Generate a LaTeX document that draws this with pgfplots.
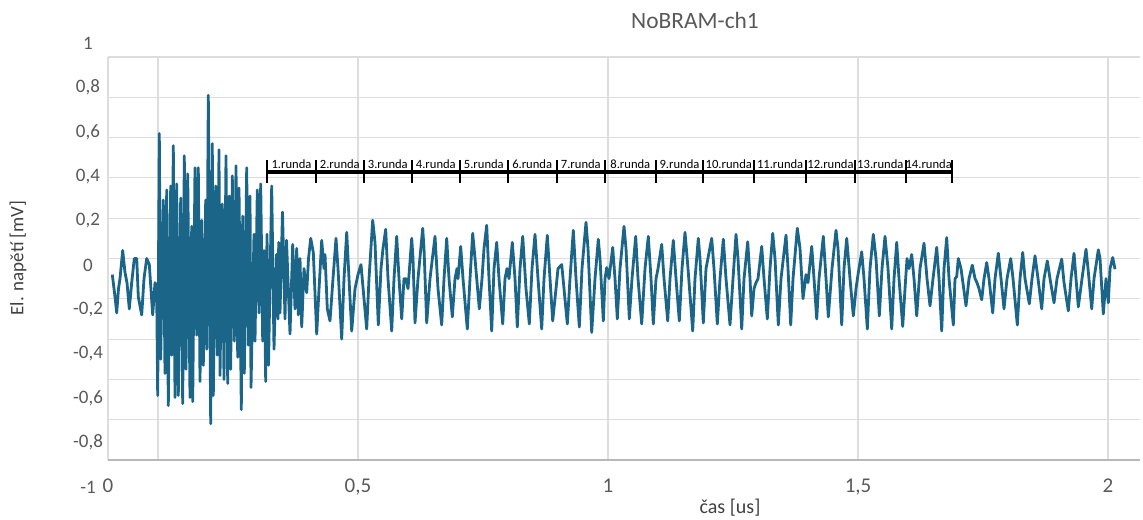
\documentclass[border=0pt]{standalone}
\usepackage{pgfplots}
\pgfplotsset{compat=1.18}
\usepackage{pgfplotstable}
\usepackage{fontspec}
\setmainfont{Carlito}
\definecolor{sig}{HTML}{1B6589}
\definecolor{gridc}{HTML}{DDDDDD}
\definecolor{tickc}{HTML}{595959}
\definecolor{labc}{HTML}{404040}
\tikzset{rl/.style={font=\fontsize{6.3}{7}\selectfont, inner sep=0pt}}
\pgfplotstableread{
x y
0.0086 -0.08
0.0140 -0.19
0.0174 -0.27
0.0210 -0.15
0.0240 -0.10
0.0294 0.04
0.0340 -0.07
0.0380 -0.12
0.0426 -0.25
0.0474 -0.12
0.0526 0.00
0.0574 0.00
0.0606 -0.19
0.0674 -0.28
0.0720 -0.10
0.0774 0.00
0.0826 -0.03
0.0894 -0.28
0.0940 -0.12
0.0974 -0.17
0.0994 -0.68
0.1026 0.62
0.1054 -0.50
0.1106 0.29
0.1140 -0.57
0.1174 0.34
0.1206 -0.73
0.1254 0.36
0.1274 -0.48
0.1306 0.56
0.1340 -0.69
0.1374 0.37
0.1406 -0.68
0.1454 0.30
0.1494 -0.72
0.1526 0.51
0.1560 -0.55
0.1594 0.42
0.1640 -0.69
0.1674 0.16
0.1694 -0.71
0.1740 0.45
0.1774 -0.38
0.1806 0.45
0.1840 -0.61
0.1874 0.19
0.1906 -0.53
0.1954 0.29
0.1974 -0.45
0.2006 0.81
0.2054 -0.82
0.2086 0.57
0.2106 -0.68
0.2154 0.36
0.2186 -0.48
0.2220 0.54
0.2240 -0.58
0.2286 0.27
0.2320 -0.60
0.2360 0.51
0.2394 -0.62
0.2426 0.31
0.2454 -0.55
0.2486 0.41
0.2526 -0.41
0.2560 0.46
0.2594 -0.49
0.2620 0.35
0.2666 -0.75
0.2694 0.21
0.2726 -0.57
0.2774 0.45
0.2806 -0.43
0.2840 0.31
0.2860 -0.64
0.2920 0.12
0.2940 -0.41
0.2986 0.34
0.3020 -0.27
0.3054 0.37
0.3094 -0.41
0.3120 0.04
0.3154 -0.61
0.3180 0.12
0.3210 -0.53
0.3274 0.36
0.3320 -0.45
0.3370 0.02
0.3400 -0.30
0.3414 0.08
0.3440 -0.27
0.3490 0.23
0.3540 -0.30
0.3570 0.09
0.3640 -0.375
0.3694 0.07
0.3740 -0.25
0.3774 0.05
0.3806 -0.28
0.3840 0.00
0.3874 -0.34
0.3920 -0.05
0.3974 -0.17
0.4010 0.00
0.4054 0.10
0.4106 0.03
0.4174 -0.375
0.4210 -0.20
0.4274 0.09
0.4320 -0.05
0.4340 0.02
0.4386 -0.25
0.4440 -0.31
0.4500 -0.10
0.4560 0.10
0.4600 -0.05
0.4674 -0.40
0.4720 -0.10
0.4774 0.13
0.4820 -0.10
0.4874 -0.36
0.4940 -0.15
0.5000 -0.08
0.5060 -0.03
0.5120 -0.20
0.5174 -0.35
0.5220 -0.10
0.5294 0.19
0.5340 0.08
0.5406 -0.33
0.5460 -0.05
0.5500 0.05
0.5554 0.145
0.5600 -0.10
0.5674 -0.36
0.5720 -0.10
0.5774 0.11
0.5820 -0.10
0.5874 -0.30
0.5920 -0.10
0.5960 -0.10
0.6000 -0.15
0.6074 0.10
0.6100 0.00
0.6140 -0.32
0.6200 -0.10
0.6294 0.15
0.6320 0.05
0.6374 -0.32
0.6440 -0.10
0.6540 0.11
0.6600 -0.15
0.6674 -0.33
0.6720 -0.10
0.6774 0.10
0.6820 -0.10
0.6886 -0.29
0.6940 -0.10
0.6980 -0.05
0.7000 -0.10
0.7054 0.06
0.7100 -0.10
0.7186 -0.35
0.7240 -0.10
0.7294 0.125
0.7340 0.00
0.7426 -0.25
0.7480 -0.10
0.7520 0.05
0.7574 0.165
0.7620 -0.10
0.7674 -0.36
0.7720 -0.05
0.7774 0.08
0.7820 -0.10
0.7894 -0.325
0.7940 -0.10
0.7980 -0.05
0.8020 -0.10
0.8086 0.08
0.8140 -0.10
0.8186 -0.34
0.8240 -0.05
0.8294 0.11
0.8360 -0.15
0.8426 -0.325
0.8480 -0.05
0.8540 0.12
0.8600 -0.10
0.8674 -0.35
0.8720 -0.10
0.8786 0.115
0.8840 -0.10
0.8894 -0.31
0.8960 -0.15
0.9000 -0.05
0.9074 -0.03
0.9120 -0.15
0.9186 -0.325
0.9240 -0.10
0.9306 0.14
0.9360 -0.10
0.9426 -0.34
0.9480 -0.05
0.9560 0.18
0.9600 0.05
0.9674 -0.367
0.9740 -0.10
0.9806 0.095
0.9840 0.00
0.9906 -0.31
0.9940 -0.10
0.9974 -0.045
1.0020 -0.10
1.0094 0.055
1.0140 -0.10
1.0186 -0.30
1.0240 -0.05
1.0320 0.16
1.0360 0.05
1.0426 -0.30
1.0480 -0.10
1.0554 0.11
1.0600 -0.10
1.0674 -0.325
1.0740 -0.05
1.0806 0.11
1.0860 -0.10
1.0906 -0.325
1.0960 -0.10
1.1000 -0.05
1.1074 0.07
1.1120 -0.10
1.1194 -0.31
1.1240 -0.10
1.1306 0.09
1.1360 -0.10
1.1426 -0.31
1.1480 -0.05
1.1540 0.13
1.1600 -0.05
1.1694 -0.36
1.1740 -0.10
1.1806 0.10
1.1840 0.00
1.1906 -0.32
1.1960 -0.05
1.2074 0.10
1.2120 -0.05
1.2186 -0.325
1.2240 -0.10
1.2306 0.096
1.2360 -0.10
1.2440 -0.33
1.2500 -0.10
1.2560 0.12
1.2600 0.00
1.2674 -0.35
1.2720 -0.10
1.2794 0.083
1.2840 -0.10
1.2874 -0.285
1.2920 -0.15
1.2960 -0.12
1.3000 -0.10
1.3074 0.06
1.3120 -0.10
1.3186 -0.30
1.3240 -0.05
1.3294 0.125
1.3340 0.00
1.3406 -0.33
1.3460 -0.10
1.3560 0.116
1.3600 -0.05
1.3654 -0.33
1.3700 -0.10
1.3786 0.15
1.3840 0.05
1.3900 -0.20
1.3960 -0.08
1.4000 -0.12
1.4074 0.06
1.4120 -0.10
1.4174 -0.30
1.4220 -0.10
1.4306 0.11
1.4360 -0.10
1.4406 -0.29
1.4480 -0.05
1.4560 0.14
1.4600 0.05
1.4674 -0.33
1.4720 -0.05
1.4774 0.10
1.4840 -0.10
1.4906 -0.285
1.4960 -0.15
1.5000 -0.08
1.5074 0.033
1.5120 -0.10
1.5186 -0.35
1.5240 -0.05
1.5306 0.12
1.5360 0.00
1.5426 -0.285
1.5480 -0.05
1.5540 0.11
1.5600 -0.05
1.5674 -0.35
1.5720 -0.10
1.5774 0.08
1.5820 -0.10
1.5894 -0.337
1.5940 -0.15
1.5980 0.00
1.6020 -0.05
1.6074 0.02
1.6120 -0.10
1.6174 -0.285
1.6240 -0.05
1.6320 0.076
1.6380 -0.10
1.6440 -0.235
1.6500 -0.10
1.6574 0.055
1.6620 -0.10
1.6674 -0.36
1.6720 -0.05
1.6774 0.104
1.6820 -0.10
1.6906 -0.33
1.6940 -0.10
1.6974 -0.09
1.7006 0.00
1.7060 -0.05
1.7160 -0.235
1.7220 -0.10
1.7286 -0.033
1.7340 -0.10
1.7380 -0.12
1.7420 -0.15
1.7474 -0.205
1.7520 -0.10
1.7574 -0.02
1.7620 -0.10
1.7694 -0.27
1.7740 -0.10
1.7806 0.026
1.7860 -0.10
1.7920 -0.25
1.7980 -0.10
1.8054 0.00
1.8100 -0.10
1.8186 -0.33
1.8240 -0.10
1.8294 0.03
1.8340 -0.10
1.8426 -0.225
1.8480 -0.10
1.8540 0.013
1.8600 -0.10
1.8674 -0.25
1.8720 -0.10
1.8786 -0.012
1.8840 -0.10
1.8920 -0.22
1.8980 -0.10
1.9074 -0.003
1.9120 -0.12
1.9206 -0.26
1.9260 -0.10
1.9320 0.026
1.9360 -0.10
1.9406 -0.24
1.9480 -0.10
1.9560 0.046
1.9600 -0.05
1.9674 -0.25
1.9720 -0.10
1.9806 0.043
1.9840 0.00
1.9906 -0.275
1.9960 -0.10
2.0006 -0.22
2.0040 -0.05
2.0094 0.005
2.0140 -0.053
}\sig
\begin{document}
\begin{tikzpicture}
\path[use as bounding box] (-54pt,-29.5pt) rectangle (517.5pt,230pt);
% y tick labels (offset scale as in reference)
\begin{axis}[at={(0pt,-13.5pt)}, anchor=south west, scale only axis,
  width=516pt, height=222pt, xmin=0, xmax=1, ymin=-1, ymax=1,
  hide x axis, axis line style={draw=none}, major tick length=0pt,
  ytick={-1,-0.8,-0.6,-0.4,-0.2,0,0.2,0.4,0.6,0.8,1},
  yticklabels={-1,{-0,8},{-0,6},{-0,4},{-0,2},0,{0,2},{0,4},{0,6},{0,8},1},
  yticklabel style={anchor=center, xshift=-10pt, text=tickc, font=\fontsize{9.5}{11}\selectfont}]
\addplot[draw=none] coordinates {(0.5,0)};
\end{axis}
\begin{axis}[at={(0pt,0pt)}, anchor=south west, scale only axis,
  width=516pt, height=201.5pt,
  xmin=0, xmax=2.064, ymin=-1, ymax=1,
  axis line style={draw=none}, major tick length=0pt,
  ytick={-1,-0.8,-0.6,-0.4,-0.2,0,0.2,0.4,0.6,0.8,1},
  yticklabels={},
  xtick={0,0.5,1,1.5,2},
  xticklabels={0,{0,5},1,{1,5},2},
  xticklabel style={text=tickc, font=\fontsize{10.5}{12}\selectfont, yshift=-6pt},
  extra x ticks={0.1}, extra x tick labels={},
  extra x tick style={grid=major},
  xmajorgrids, ymajorgrids,
  grid style={color=gridc, line width=0.6pt}]
\draw[color=black!28, line width=0.9pt] (axis cs:0,-1) -- (axis cs:2.064,-1);
\addplot[color=sig, line width=1.4pt, line join=round, mark=none] table[x=x, y=y] {\sig};
% round annotation
\draw[line width=2pt] (axis cs:0.3186,0.428) -- (axis cs:1.6874,0.428);
\pgfplotsinvokeforeach{0.3186,0.4154,0.512,0.6074,0.704,0.7994,0.8974,0.994,1.0954,1.1906,1.2926,1.396,1.494,1.5954,1.6874}{
  \draw[line width=1.1pt] (axis cs:#1,0.377) -- (axis cs:#1,0.491);
}
\node[rl] at (axis cs:0.367,0.466) {1.runda};
\node[rl] at (axis cs:0.4637,0.466) {2.runda};
\node[rl] at (axis cs:0.5597,0.466) {3.runda};
\node[rl] at (axis cs:0.6557,0.466) {4.runda};
\node[rl] at (axis cs:0.7517,0.466) {5.runda};
\node[rl] at (axis cs:0.8484,0.466) {6.runda};
\node[rl] at (axis cs:0.9457,0.466) {7.runda};
\node[rl] at (axis cs:1.0447,0.466) {8.runda};
\node[rl] at (axis cs:1.143,0.466) {9.runda};
\node[rl] at (axis cs:1.2416,0.466) {10.runda};
\node[rl] at (axis cs:1.3443,0.466) {11.runda};
\node[rl] at (axis cs:1.445,0.466) {12.runda};
\node[rl] at (axis cs:1.5447,0.466) {13.runda};
\node[rl] at (axis cs:1.6414,0.466) {14.runda};
\end{axis}
\node[font=\fontsize{11.7}{14}\selectfont, text=tickc] at (293.5pt,220pt) {NoBRAM-ch1};
\node[rotate=90, font=\fontsize{9.5}{11}\selectfont, text=labc] at (-45pt,101pt) {El. napětí [mV]};
\node[font=\fontsize{10}{12}\selectfont, text=labc] at (311pt,-24pt) {čas [us]};
\end{tikzpicture}
\end{document}
